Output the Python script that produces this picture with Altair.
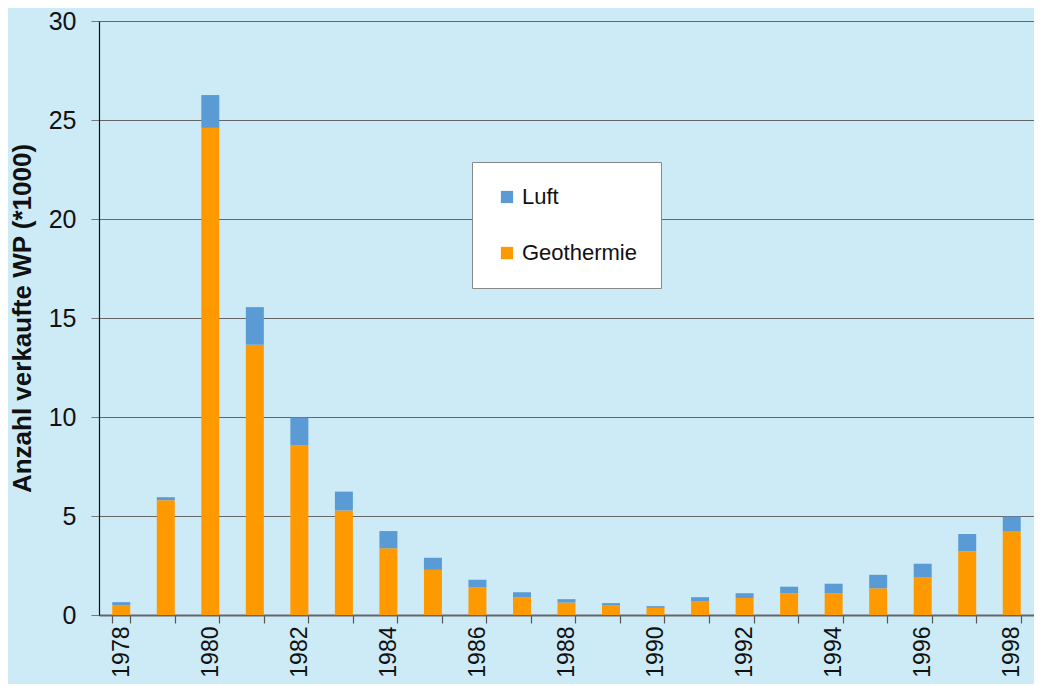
import altair as alt
import pandas as pd

years = [str(y) for y in range(1978, 1999)]
geothermie = [0.5, 5.8, 24.6, 13.65, 8.57, 5.28, 3.37, 2.28, 1.41, 0.9, 0.63,
              0.48, 0.36, 0.7, 0.86, 1.1, 1.1, 1.35, 1.89, 3.22, 4.24]
total = [0.65, 5.95, 26.26, 15.55, 9.97, 6.23, 4.24, 2.89, 1.78, 1.15, 0.8,
         0.6, 0.45, 0.9, 1.1, 1.43, 1.58, 2.03, 2.59, 4.09, 4.97]
luft = [round(t - g, 2) for t, g in zip(total, geothermie)]
series = ["Luft", "Geothermie"]
colors = ["#5b9bd5", "#ff9900"]

rows = []
for i, y in enumerate(years):
    rows.append({"Jahr": y, "Typ": "Geothermie", "Wert": geothermie[i], "ord": 0})
    rows.append({"Jahr": y, "Typ": "Luft", "Wert": luft[i], "ord": 1})
df = pd.DataFrame(rows)

bg = "#cdebf6"

chart = alt.Chart(df).mark_bar(size=18).encode(
    x=alt.X("Jahr:N", sort=years, title=None,
            scale=alt.Scale(paddingInner=0.6, paddingOuter=0.3),
            axis=alt.Axis(tickBand="extent", labelAngle=270, labelAlign="right",
                          labelBaseline="middle",
                          labelExpr="toNumber(datum.value) % 2 == 0 ? datum.value : ''",
                          labelOverlap=False, labelFontSize=23, labelColor="#111",
                          labelFont="Liberation Sans", labelPadding=3,
                          tickSize=8, tickColor="#555", tickWidth=1.2,
                          domainColor="#666", domainWidth=2, grid=False)),
    y=alt.Y("Wert:Q", stack="zero", title="Anzahl verkaufte WP (*1000)",
            scale=alt.Scale(domain=[0, 30], nice=False),
            axis=alt.Axis(values=[0, 5, 10, 15, 20, 25, 30], labelFontSize=25,
                          labelFont="Liberation Sans", labelColor="#111",
                          labelPadding=15, tickSize=8, tickColor="#777",
                          domainColor="#111", domainWidth=1.2,
                          gridColor="#666", gridWidth=1,
                          titleFont="Liberation Sans", titleFontSize=26,
                          titleFontWeight="bold", titleColor="#111",
                          titlePadding=13)),
    color=alt.Color("Typ:N", scale=alt.Scale(domain=series, range=colors),
                    legend=alt.Legend(title=None, orient="none", legendX=373, legendY=141,
                                      fillColor="white", strokeColor="#888",
                                      padding=24, rowPadding=34,
                                      symbolType="square", symbolSize=150,
                                      symbolStrokeWidth=0, symbolOffset=0,
                                      labelFontSize=22, labelFont="Liberation Sans",
                                      labelColor="#111", labelOffset=4)),
    order=alt.Order("ord:Q"),
).properties(
    width=935, height=594,
    autosize=alt.AutoSizeParams(type="none"),
    padding={"left": 91, "top": 13, "right": 0, "bottom": 69},
    background=bg,
).configure_view(fill=bg, stroke=None)

chart.save("out.html", embed_options={"renderer": "svg", "actions": False})
